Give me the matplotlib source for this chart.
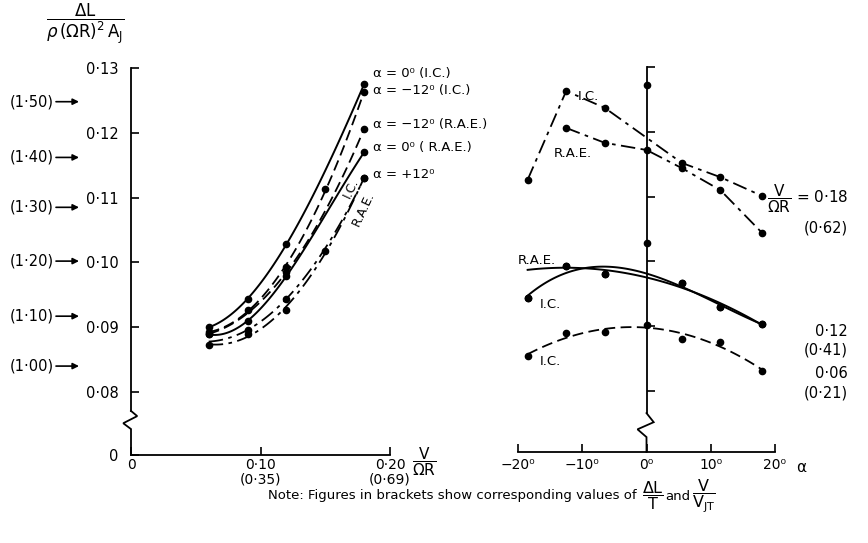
import numpy as np
import matplotlib.pyplot as plt

# ---- left panel : lift increment against V / (Omega R) ----
v = [0.06, 0.09, 0.12, 0.15, 0.18]
ic_a0 = [0.0900, 0.0944, 0.1028, np.nan, 0.1275]
ic_am12 = [0.0892, 0.0927, 0.0993, 0.1113, 0.1263]
rae_am12 = [0.0890, np.nan, 0.0985, np.nan, 0.1206]
rae_a0 = [0.0889, 0.0910, 0.0979, np.nan, 0.1170]
ic_ap12 = [np.nan, 0.0896, 0.0944, np.nan, 0.1130]
rae_ap12 = [0.0873, 0.0889, 0.0927, 0.1018, 0.1130]

left_labels = ['α = 0⁰ (I.C.)', 'α = −12⁰ (I.C.)', 'α = −12⁰ (R.A.E.)',
               'α = 0⁰ ( R.A.E.)', 'α = +12⁰']
left_label_y = [0.1292, 0.1265, 0.1213, 0.1178, 0.1135]

# ---- right panel : lift increment against incidence ----
alpha = [-18.5, -12.5, -6.5, 0, 5.5, 11.5, 18]
ic_018 = [0.1126, 0.1263, 0.1237, np.nan, 0.1152, 0.1130, 0.1101]
rae_018 = [np.nan, 0.1206, 0.1183, 0.1172, 0.1144, 0.1110, 0.1044]
axis_pts = [0.1272, 0.1028]
pts_012 = [0.0944, 0.0993, 0.0981, np.nan, 0.0967, 0.0930, 0.0903]
ic_006 = [0.0854, 0.0889, 0.0891, 0.0902, 0.0880, 0.0876, 0.0831]

y_ticks = [0.08, 0.09, 0.10, 0.11, 0.12, 0.13]
y_tick_labels = ['0·08', '0·09', '0·10', '0·11', '0·12', '0·13']
thrust_ratio = ['(1·00)', '(1·10)', '(1·20)', '(1·30)', '(1·40)', '(1·50)']
thrust_ratio_y = [0.0840, 0.0917, 0.1002, 0.1085, 0.1162, 0.1248]

W, H = 868, 543
fig = plt.figure(figsize=(W / 100, H / 100), dpi=100)
plt.rcParams['font.family'] = ['DejaVu Sans']


def box(x0, y0, x1, y1):
    # pixel box (top-left origin) -> figure fraction rect
    return [x0 / W, 1 - y1 / H, (x1 - x0) / W, (y1 - y0) / H]


def ftext(x, y, s, **kw):
    return fig.text(x / W, 1 - y / H, s, **kw)


solid = dict(color='k', lw=1.4, ls='-')
dashed = dict(color='k', lw=1.3, ls=(0, (6, 3)))
dashdot = dict(color='k', lw=1.3, ls=(0, (8, 3, 2, 3)))
dot = dict(color='k', ls='none', marker='o', ms=4.5)


def faired(ax, x, y, style, deg=3, x0=None, x1=None, fit=None):
    # smooth fairing curve through the measured points
    x = np.asarray(x, float)
    y = np.asarray(y, float)
    ok = ~np.isnan(y)
    use = ok if fit is None else fit
    c = np.polyfit(x[use], y[use], min(deg, use.sum() - 1))
    xs = np.linspace(x[ok].min() if x0 is None else x0,
                     x[ok].max() if x1 is None else x1, 120)
    ax.plot(xs, np.polyval(c, xs), **style)
    ax.plot(x[ok], y[ok], **dot)


def zigzag(ax, xc, dx, ys, y_bot):
    ax.plot([xc, xc, xc - dx, xc + 0.8 * dx, xc],
            [y_bot] + ys, color='k', lw=1.3, clip_on=False,
            solid_joinstyle='miter')


# ---------------- left panel ----------------
axl = fig.add_axes(box(131, 68, 390, 455))
axl.set_xlim(0, 0.2)
axl.set_ylim(0.0703, 0.13)
for s in ('top', 'right'):
    axl.spines[s].set_visible(False)
axl.spines['left'].set_bounds(0.0771, 0.13)
zigzag(axl, 0.0, 0.006, [0.0743, 0.0752, 0.0763, 0.0771], 0.0703)
for s in ('left', 'bottom'):
    axl.spines[s].set_linewidth(1.3)

axl.set_yticks([0.0703] + y_ticks)
axl.set_yticklabels(['0'] + y_tick_labels, fontsize=10.5)
axl.set_xticks([0, 0.10, 0.20])
axl.set_xticklabels(['0', '0·10\n(0·35)', '0·20\n(0·69)'], fontsize=10,
                    linespacing=1.05)
axl.tick_params(direction='in', length=6, width=1.2)
axl.tick_params(axis='y', pad=9)
axl.tick_params(axis='x', pad=2)

faired(axl, v, ic_a0, solid)
faired(axl, v, ic_am12, dashed)
faired(axl, v, rae_am12, dashed, deg=2)
faired(axl, v, rae_a0, solid)
faired(axl, v, ic_ap12, dashdot, deg=2, x0=0.06)
faired(axl, v, rae_ap12, dashdot)

for lab, yy in zip(left_labels, left_label_y):
    axl.text(0.1865, yy, lab, fontsize=9.5, va='center', ha='left',
             clip_on=False)
axl.text(0.170, 0.1115, 'I.C.', fontsize=9, rotation=65, ha='center',
         va='center')
axl.text(0.179, 0.1082, 'R.A.E.', fontsize=9, rotation=65, ha='center',
         va='center')

# ---------------- right panel ----------------
axr = fig.add_axes(box(518, 67, 775, 452))
axr.set_xlim(-20, 20)
axr.set_ylim(0.0706, 0.13)
for s in ('top', 'right'):
    axr.spines[s].set_visible(False)
axr.spines['left'].set_position(('data', 0))
axr.spines['left'].set_bounds(0.0766, 0.13)
zigzag(axr, 0.0, 1.4, [0.0729, 0.0741, 0.0752, 0.0766], 0.0706)
for s in ('left', 'bottom'):
    axr.spines[s].set_linewidth(1.3)
axr.set_yticks(y_ticks)
axr.set_yticklabels([])
axr.set_xticks([-20, -10, 0, 10, 20])
axr.set_xticklabels(['−20⁰', '−10⁰', '0⁰', '10⁰', '20⁰'], fontsize=10)
axr.tick_params(direction='in', length=6, width=1.2, pad=4)

a = np.asarray(alpha, float)
for ser in (ic_018, rae_018):
    y = np.asarray(ser, float)
    ok = ~np.isnan(y)
    axr.plot(a[ok], y[ok], marker='o', ms=4.5, **dashdot)
axr.plot([0] * len(axis_pts), axis_pts, **dot)

# V/OmegaR = 0.12 : I.C. and R.A.E. fairings through one set of points
faired(axr, alpha, pts_012, solid, deg=3)
rae_fit = np.array([False, True, True, False, True, True, True])
faired(axr, alpha, pts_012, solid, deg=2, x1=17.5, fit=rae_fit)
faired(axr, alpha, ic_006, dashed, deg=2)

axr.text(-9.0, 0.1254, 'I.C.', fontsize=9.5, ha='center', va='center')
axr.text(-11.5, 0.1167, 'R.A.E.', fontsize=9.5, ha='center', va='center')
axr.text(-17.0, 0.1002, 'R.A.E.', fontsize=9.5, ha='center', va='center')
axr.text(-15.0, 0.0934, 'I.C.', fontsize=9.5, ha='center', va='center')
axr.text(-15.0, 0.0846, 'I.C.', fontsize=9.5, ha='center', va='center')

# ---------------- annotations outside the axes ----------------
ftext(85, 24, r'$\dfrac{\Delta\mathrm{L}}{\rho\,(\Omega\mathrm{R})^2\,\mathrm{A_J}}$',
      fontsize=12, ha='center', va='center')
for lab, yy in zip(thrust_ratio, thrust_ratio_y):
    py = 68 + (0.13 - yy) * 6480
    ftext(10, py, lab, fontsize=10.5, ha='left', va='center')
    axl.annotate('', xy=(79, H - py), xytext=(56, H - py),
                 xycoords='figure pixels', textcoords='figure pixels',
                 arrowprops=dict(arrowstyle='-|>', lw=1.2, color='k',
                                 mutation_scale=9, shrinkA=0, shrinkB=0),
                 annotation_clip=False)

ftext(412, 462, r'$\dfrac{\mathrm{V}}{\Omega\mathrm{R}}$', fontsize=11,
      ha='left', va='center')
ftext(796, 468, 'α', fontsize=11, ha='left', va='center')
ftext(767, 199, r'$\dfrac{\mathrm{V}}{\Omega\mathrm{R}}$ = 0·18', fontsize=11,
      ha='left', va='center')
ftext(848, 228, '(0·62)', fontsize=10.5, ha='right', va='center')
ftext(848, 331, '0·12', fontsize=10.5, ha='right', va='center')
ftext(848, 350, '(0·41)', fontsize=10.5, ha='right', va='center')
ftext(848, 373, '0·06', fontsize=10.5, ha='right', va='center')
ftext(848, 393, '(0·21)', fontsize=10.5, ha='right', va='center')

# note line, each piece placed just after the previous one
prev = ftext(268, 496, 'Note: Figures in brackets show corresponding values of',
             fontsize=9.5, ha='left', va='center')
for piece, fs, gap in ((r'$\dfrac{\Delta\mathrm{L}}{\mathrm{T}}$', 11.5, 4),
                       ('and', 9.5, 1),
                       (r'$\dfrac{\mathrm{V}}{\mathrm{V_{JT}}}$', 11.5, 1)):
    prev = axl.annotate(piece, xy=(1, 0.5), xycoords=prev,
                        xytext=(gap, 0), textcoords='offset points',
                        fontsize=fs, ha='left', va='center',
                        annotation_clip=False)

fig.savefig('out.png', dpi=100)
